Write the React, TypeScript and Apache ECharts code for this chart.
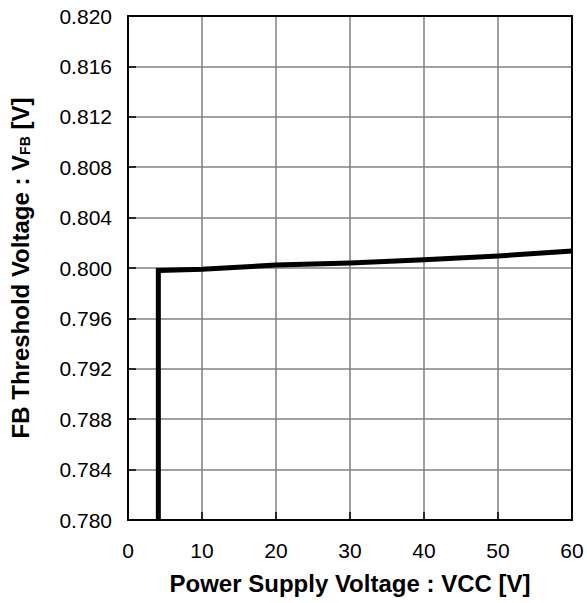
import React, { useEffect, useRef } from "react";
import * as echarts from "echarts";

const xTicks = [0, 10, 20, 30, 40, 50, 60];
const yTickLabels = ["0.780", "0.784", "0.788", "0.792", "0.796", "0.800", "0.804", "0.808", "0.812", "0.816", "0.820"];
const vccValues = [4.1, 4.1, 10, 20, 30, 40, 50, 60];
const vfbValues = [0.78, 0.7998, 0.7999, 0.80024, 0.8004, 0.80065, 0.80095, 0.80135];

export default function App() {
  const ref = useRef<HTMLDivElement>(null);
  useEffect(() => {
    if (!ref.current) return;
    const chart = echarts.init(ref.current, undefined, { renderer: "svg" });
    const font = "'Liberation Sans', Arial, sans-serif";
    const data = vccValues.map((x, i) => [x, vfbValues[i]]);
    chart.setOption({
      animation: false,
      grid: { left: 127, top: 16, right: 15, bottom: 83 },
      xAxis: [
        {
          type: "value",
          min: xTicks[0],
          max: xTicks[xTicks.length - 1],
          interval: 10,
          name: "Power Supply Voltage : VCC [V]",
          nameLocation: "middle",
          nameGap: 51,
          nameTextStyle: { fontFamily: font, fontSize: 24, fontWeight: "bold", color: "#000" },
          axisLine: { show: true, onZero: false, lineStyle: { color: "#000", width: 2 } },
          axisTick: { show: true, inside: true, length: 8, lineStyle: { color: "#000", width: 1.5 } },
          axisLabel: { fontFamily: font, fontSize: 21, color: "#000", margin: 20 },
          splitLine: { show: true, lineStyle: { color: "#808080", width: 1.5 } },
        },
        {
          type: "value",
          position: "top",
          min: 0,
          max: 60,
          interval: 10,
          axisLine: { show: true, onZero: false, lineStyle: { color: "#000", width: 2 } },
          axisTick: { show: false },
          axisLabel: { show: false },
          splitLine: { show: false },
        },
      ],
      yAxis: [
        {
          type: "value",
          min: 0.78,
          max: 0.82,
          interval: 0.004,
          name: "FB Threshold Voltage : V{sub|FB} [V]",
          nameLocation: "middle",
          nameGap: 96,
          nameTextStyle: {
            fontFamily: font,
            fontSize: 24,
            fontWeight: "bold",
            color: "#000",
            rich: {
              sub: { fontFamily: font, fontSize: 14, fontWeight: "bold", color: "#000", verticalAlign: "bottom", padding: [10, 0, 0, 0] },
            },
          },
          axisLine: { show: true, onZero: false, lineStyle: { color: "#000", width: 2 } },
          axisTick: { show: true, inside: true, length: 8, lineStyle: { color: "#000", width: 1.5 } },
          axisLabel: {
            fontFamily: font,
            fontSize: 21,
            color: "#000",
            margin: 16,
            formatter: (v: number) => {
              const idx = Math.round((v - 0.78) / 0.004);
              return yTickLabels[idx] ?? v.toFixed(3);
            },
          },
          splitLine: { show: true, lineStyle: { color: "#808080", width: 1.5 } },
        },
        {
          type: "value",
          position: "right",
          min: 0.78,
          max: 0.82,
          interval: 0.004,
          axisLine: { show: true, onZero: false, lineStyle: { color: "#000", width: 2 } },
          axisTick: { show: false },
          axisLabel: { show: false },
          splitLine: { show: false },
        },
      ],
      series: [
        {
          type: "line",
          data,
          xAxisIndex: 0,
          yAxisIndex: 0,
          showSymbol: false,
          symbol: "none",
          lineStyle: { color: "#000", width: 5, join: "miter" },
          z: 5,
        },
      ],
    });
    return () => chart.dispose();
  }, []);
  return <div ref={ref} style={{ width: 587, height: 603, position: "absolute", left: 0, top: 0 }} />;
}
